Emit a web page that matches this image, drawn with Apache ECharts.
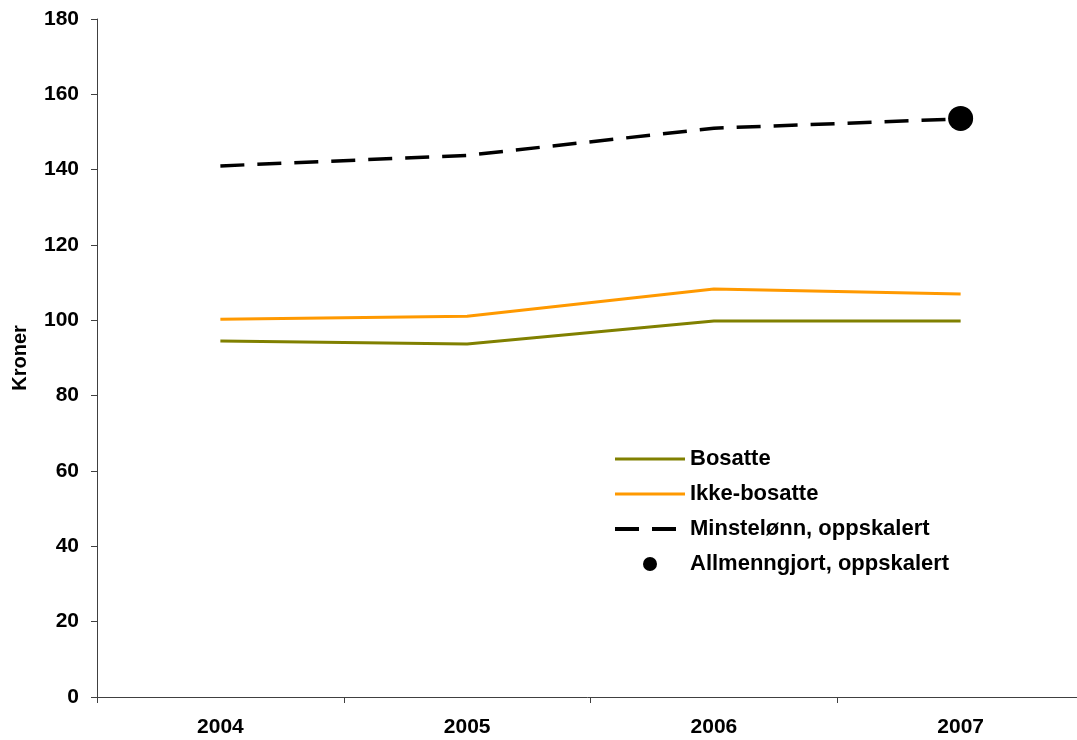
<!DOCTYPE html>
<html>
<head>
<meta charset="utf-8">
<title>Kroner</title>
<script src="https://cdn.jsdelivr.net/npm/echarts@6/dist/echarts.min.js"></script>
<style>
  html, body { margin: 0; padding: 0; background: #fff; }
  #chart { width: 1077px; height: 740px; }
</style>
</head>
<body>
<div id="chart"></div>
<script>
var years = ['2004', '2005', '2006', '2007'];
var bosatte = [94.5, 93.7, 99.8, 99.8];
var ikkeBosatte = [100.3, 101.1, 108.3, 107.0];
var minstelonn = [141.0, 143.8, 151.0, 153.5];
var allmenngjort = ['-', '-', '-', 153.6];

var font = 'Liberation Sans, Arial, sans-serif';

var chart = echarts.init(document.getElementById('chart'));
chart.setOption({
  animation: false,
  grid: { left: 97, right: -7, top: 19, bottom: 43, outerBoundsMode: 'none', containLabel: false },
  legend: {
    orient: 'vertical',
    left: 608,
    top: 443,
    itemWidth: 70,
    itemHeight: 14,
    itemGap: 13,
    textStyle: { fontFamily: font, fontWeight: 'bold', fontSize: 22, color: '#000' },
    data: [
      { name: 'Bosatte', itemStyle: { opacity: 0 }, lineStyle: { width: 3 } },
      { name: 'Ikke-bosatte', itemStyle: { opacity: 0 }, lineStyle: { width: 3 } },
      { name: 'Minstelønn, oppskalert', itemStyle: { opacity: 0 }, lineStyle: { width: 4 } },
      { name: 'Allmenngjort, oppskalert', icon: 'circle' }
    ]
  },
  xAxis: {
    type: 'category',
    data: years,
    boundaryGap: true,
    axisLine: { lineStyle: { color: '#404040', width: 1 } },
    axisTick: { show: true, length: 6, lineStyle: { color: '#404040' } },
    axisLabel: { margin: 20, fontFamily: font, fontWeight: 'bold', fontSize: 21, color: '#000' }
  },
  yAxis: {
    type: 'value',
    min: 0,
    max: 180,
    interval: 20,
    name: 'Kroner',
    nameLocation: 'middle',
    nameGap: 67,
    nameTextStyle: { fontFamily: font, fontWeight: 'bold', fontSize: 20, color: '#000' },
    axisLine: { show: true, lineStyle: { color: '#404040', width: 1 } },
    axisTick: { show: true, length: 6, lineStyle: { color: '#404040' } },
    splitLine: { show: false },
    axisLabel: { margin: 18, fontFamily: font, fontWeight: 'bold', fontSize: 21, color: '#000' }
  },
  series: [
    {
      name: 'Bosatte',
      type: 'line',
      data: bosatte,
      symbol: 'none',
      lineStyle: { color: '#808000', width: 3 },
      itemStyle: { color: '#808000' }
    },
    {
      name: 'Ikke-bosatte',
      type: 'line',
      data: ikkeBosatte,
      symbol: 'none',
      lineStyle: { color: '#FF9900', width: 3 },
      itemStyle: { color: '#FF9900' }
    },
    {
      name: 'Minstelønn, oppskalert',
      type: 'line',
      data: minstelonn,
      symbol: 'none',
      lineStyle: { color: '#000', width: 3.5, type: [24, 13] },
      itemStyle: { color: '#000' }
    },
    {
      name: 'Allmenngjort, oppskalert',
      type: 'scatter',
      data: allmenngjort,
      symbol: 'circle',
      symbolSize: 25,
      itemStyle: { color: '#000', opacity: 1 }
    }
  ]
});
</script>
</body>
</html>
